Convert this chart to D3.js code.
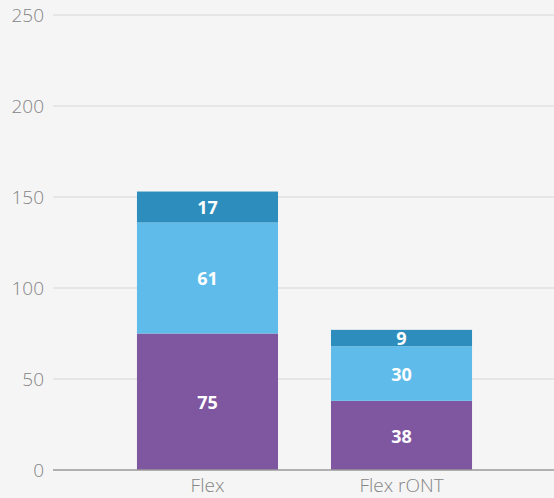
<!DOCTYPE html>
<html>
<head>
<meta charset="utf-8">
<script src="https://cdn.jsdelivr.net/npm/d3@7"></script>
<style>
  html, body { margin: 0; padding: 0; background: #f5f5f5; }
  svg { display: block; font-family: "Open Sans", "Noto Sans", sans-serif; }
</style>
</head>
<body>
<svg id="chart" width="554" height="498"></svg>
<script>
const categories = ["Flex", "Flex rONT"];
const seriesNames = ["bottom", "middle", "top"];
const bottomValues = [75, 38];
const middleValues = [61, 30];
const topValues = [17, 9];
const yTicks = [0, 50, 100, 150, 200, 250];

const colors = ["#7f56a0", "#5fbbe9", "#2d8dbc"];

const width = 554;
const height = 498;

const rows = categories.map((c, i) => ({
  category: c,
  bottom: bottomValues[i],
  middle: middleValues[i],
  top: topValues[i],
}));

const stack = d3.stack().keys(seriesNames)(rows);

const x = d3.scaleBand()
  .domain(categories)
  .range([84, 525])
  .paddingInner(0.273)
  .paddingOuter(0.273);

const y = d3.scaleLinear()
  .domain([0, 250])
  .range([470, 15]);

const svg = d3.select("#chart");

// grid lines
svg.append("g")
  .selectAll("line")
  .data(yTicks.filter(t => t > 0))
  .join("line")
  .attr("x1", 53)
  .attr("x2", width)
  .attr("y1", d => y(d))
  .attr("y2", d => y(d))
  .attr("stroke", "#e6e6e6")
  .attr("stroke-width", 2);

// y tick labels
svg.append("g")
  .selectAll("text")
  .data(yTicks)
  .join("text")
  .attr("x", 44)
  .attr("y", d => y(d))
  .attr("dy", "0.36em")
  .attr("text-anchor", "end")
  .attr("fill", "#858585")
  .style("font-size", "19px")
  .style("font-weight", 300)
  .text(d => d);

// bars
const layer = svg.append("g")
  .selectAll("g")
  .data(stack)
  .join("g")
  .attr("fill", (d, i) => colors[i]);

layer.selectAll("rect")
  .data(d => d)
  .join("rect")
  .attr("x", d => x(d.data.category))
  .attr("width", x.bandwidth())
  .attr("y", d => y(d[1]))
  .attr("height", d => y(d[0]) - y(d[1]));

// value labels
layer.selectAll("text")
  .data(d => d.map(v => ({ v, key: d.key })))
  .join("text")
  .attr("x", d => x(d.v.data.category) + x.bandwidth() / 2)
  .attr("y", d => (y(d.v[0]) + y(d.v[1])) / 2)
  .attr("dy", "0.4em")
  .attr("text-anchor", "middle")
  .attr("fill", "#fff")
  .style("font-size", "18px")
  .style("font-weight", "bold")
  .text(d => d.v.data[d.key]);

// baseline
svg.append("line")
  .attr("x1", 53)
  .attr("x2", width)
  .attr("y1", y(0))
  .attr("y2", y(0))
  .attr("stroke", "#999")
  .attr("stroke-width", 1.5);

// category labels
svg.append("g")
  .selectAll("text")
  .data(categories)
  .join("text")
  .attr("x", d => x(d) + x.bandwidth() / 2)
  .attr("y", 492)
  .attr("text-anchor", "middle")
  .attr("fill", "#858585")
  .style("font-size", "19px")
  .style("font-weight", 300)
  .text(d => d);
</script>
</body>
</html>
